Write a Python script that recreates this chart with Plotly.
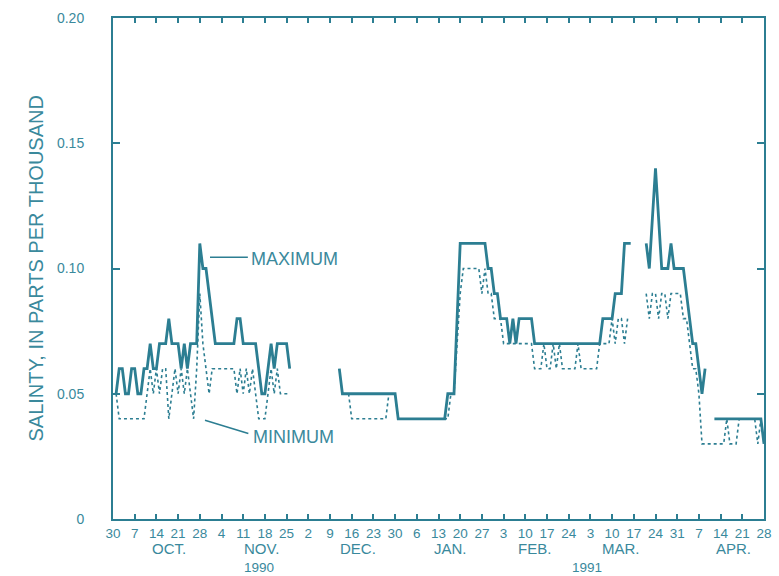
import pandas as pd
import plotly.graph_objects as go

N = None

# Daily maximum salinity, parts per thousand (one list per month)
max_oct = [.05, .06, .06, .05, .05, .06, .06, .05, .05, .06, .06, .07, .06, .06, .07, .07,
           .07, .08, .07, .07, .07, .06, .07, .06, .07, .07, .07, .11, .10, .10, .09]
max_nov = [.08, .07, .07, .07, .07, .07, .07, .07, .08, .08, .07, .07, .07, .07, .07, .06,
           .05, .05, .06, .07, .06, .07, .07, .07, .07, .06, N, N, N, N]
max_dec = [N, N, N, N, N, N, N, N, N, N, N, .06, .05, .05, .05, .05, .05, .05, .05, .05,
           .05, .05, .05, .05, .05, .05, .05, .05, .05, .05, .04]
max_jan = [.04, .04, .04, .04, .04, .04, .04, .04, .04, .04, .04, .04, .04, .04, .04, .05,
           .05, .05, .08, .11, .11, .11, .11, .11, .11, .11, .11, .11, .10, .10, .09]
max_feb = [.09, .08, .08, .08, .07, .08, .07, .08, .08, .08, .08, .08, .07, .07, .07, .07,
           .07, .07, .07, .07, .07, .07, .07, .07, .07, .07, .07, .07]
max_mar = [.07, .07, .07, .07, .07, .07, .08, .08, .08, .08, .09, .09, .09, .11, .11, .11,
           N, N, N, N, .11, .10, .12, .14, .12, .10, .10, .10, .11, .10, .10]
max_apr = [.10, .10, .09, .08, .07, .07, .06, .05, .06, N, N, .04, .04, .04, .04, .04,
           .04, .04, .04, .04, .04, .04, .04, .04, .04, .04, .04, .03]

# Daily minimum salinity, parts per thousand
min_oct = [.05, .04, .04, .04, .04, .04, .04, .04, .04, .04, .05, .06, .05, .06, .05, .06,
           .06, .04, .05, .06, .05, .06, .05, .06, .05, .04, .06, .09, .07, .06, .05]
min_nov = [.06, .06, .06, .06, .06, .06, .06, .06, .05, .06, .05, .06, .05, .06, .05, .04,
           .04, .04, .05, .06, .05, .06, .05, .05, .05, .05, N, N, N, N]
min_dec = [N, N, N, N, N, N, N, N, N, N, N, N, .05, .05, .05, .04, .04, .04, .04, .04,
           .04, .04, .04, .04, .04, .04, .04, .05, .05, .05, .04]
min_jan = [.04, .04, .04, .04, .04, .04, .04, .04, .04, .04, .04, .04, .04, .04, .04, .04,
           .05, .05, .07, .09, .10, .10, .10, .10, .10, .10, .09, .10, .09, .09, .08]
min_feb = [.08, .08, .07, .07, .07, .07, .07, .07, .07, .07, .07, .07, .06, .06, .06, .07,
           .06, .06, .07, .06, .07, .06, .06, .06, .06, .06, .07, .06]
min_mar = [.06, .06, .06, .06, .06, .07, .07, .07, .07, .08, .07, .08, .08, .07, .08, N,
           N, N, N, N, .09, .08, .09, .09, .08, .09, .09, .08, .09, .09, .09]
min_apr = [.09, .08, .08, .07, .06, .06, .05, .03, .03, .03, .03, .03, .03, .03, .03, .04,
           .03, .03, .03, .04, .04, .04, .04, .04, .04, .03, .04, .03]

dates = pd.date_range("1990-10-01", "1991-04-28", freq="D")
salinity_max = max_oct + max_nov + max_dec + max_jan + max_feb + max_mar + max_apr
salinity_min = min_oct + min_nov + min_dec + min_jan + min_feb + min_mar + min_apr

# Weekly tick marks and their day-of-month labels
tick_dates = pd.date_range("1990-09-30", "1991-04-28", freq="7D")
tick_labels = [str(d.day) for d in tick_dates]

y_ticks = [0, 0.05, 0.10, 0.15, 0.20]
y_tick_labels = ["0", "0.05", "0.10", "0.15", "0.20"]

month_names = ["OCT.", "NOV.", "DEC.", "JAN.", "FEB.", "MAR.", "APR."]
month_centers = ["1990-10-18", "1990-11-17", "1990-12-18", "1991-01-17",
                 "1991-02-13", "1991-03-13", "1991-04-18"]
years = ["1990", "1991"]
year_centers = ["1990-11-16", "1991-03-02"]

LINE = "#2c7e92"
TEXT = "#3a899c"
FONT = "Liberation Sans"

fig = go.Figure()
fig.add_trace(go.Scatter(
    x=dates, y=salinity_min, mode="lines", name="Minimum",
    line=dict(color=LINE, width=1.6, dash="dot"), connectgaps=False,
))
fig.add_trace(go.Scatter(
    x=dates, y=salinity_max, mode="lines", name="Maximum",
    line=dict(color=LINE, width=2.8), connectgaps=False,
))

annotations = []
for name, c in zip(month_names, month_centers):
    annotations.append(dict(x=c, xref="x", y=0, yref="paper", yanchor="middle",
                            yshift=-29, text=name, showarrow=False,
                            font=dict(family=FONT, size=15, color=TEXT)))
for name, c in zip(years, year_centers):
    annotations.append(dict(x=c, xref="x", y=0, yref="paper", yanchor="middle",
                            yshift=-48, text=name, showarrow=False,
                            font=dict(family=FONT, size=13.5, color=TEXT)))

# Series labels with leader lines
annotations.append(dict(x="1990-11-13 00:00", y=0.1037, xref="x", yref="y",
                        xanchor="left", yanchor="middle", text="MAXIMUM",
                        showarrow=False, font=dict(family=FONT, size=18, color=TEXT)))
annotations.append(dict(x="1990-11-13 16:00", y=0.0329, xref="x", yref="y",
                        xanchor="left", yanchor="middle", text="MINIMUM",
                        showarrow=False, font=dict(family=FONT, size=18, color=TEXT)))

# Vertical axis title
annotations.append(dict(x=0, xref="paper", xshift=-78, y=0.5, yref="paper",
                        xanchor="center", yanchor="middle", textangle=-90,
                        text="SALINTY, IN PARTS PER THOUSAND", showarrow=False,
                        font=dict(family=FONT, size=20, color=TEXT)))

shapes = [
    dict(type="line", xref="x", yref="y", x0="1990-10-31 07:00", y0=0.1045,
         x1="1990-11-12 12:00", y1=0.1045, line=dict(color=LINE, width=1.6)),
    dict(type="line", xref="x", yref="y", x0="1990-10-29 16:00", y0=0.0394,
         x1="1990-11-12 16:00", y1=0.0341, line=dict(color=LINE, width=1.6)),
]

fig.update_layout(
    width=779, height=576,
    margin=dict(l=113, r=7, t=18, b=57),
    paper_bgcolor="white", plot_bgcolor="white",
    showlegend=False,
    annotations=annotations,
    shapes=shapes,
    xaxis=dict(
        type="date", range=[tick_dates[0], tick_dates[-1]],
        tickmode="array", tickvals=list(tick_dates), ticktext=tick_labels,
        ticks="inside", ticklen=5, tickwidth=1.5, tickcolor=LINE,
        showline=True, linewidth=2, linecolor=LINE, mirror="ticks",
        showgrid=False, zeroline=False, ticklabelstandoff=1,
        tickfont=dict(family=FONT, size=13.5, color=TEXT),
    ),
    yaxis=dict(
        range=[0, 0.2], tickmode="array", tickvals=y_ticks, ticktext=y_tick_labels,
        ticks="inside", ticklen=7, tickwidth=1.5, tickcolor=LINE,
        showline=True, linewidth=2, linecolor=LINE, mirror="ticks",
        showgrid=False, zeroline=False, ticklabelstandoff=24,
        tickfont=dict(family=FONT, size=14, color=TEXT),
    ),
)

fig.write_html("out.html")
